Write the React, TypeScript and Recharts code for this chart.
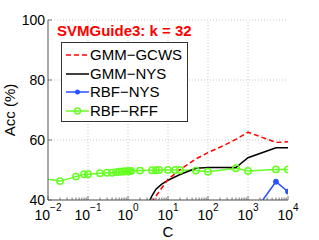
import React from 'react';
import { LineChart, Line, XAxis, YAxis, CartesianGrid, ReferenceLine, Legend } from 'recharts';

// ---- data ----
const gcwsC = [3, 5, 10, 20, 50, 100, 200, 500, 1000, 5000, 10000];
const gcwsAcc = [36.9, 41.3, 46.9, 50.1, 53.7, 55.8, 57.6, 60.2, 62.6, 59.2, 59.4];

const nysC = [3, 4, 5, 7, 10, 20, 50, 100, 200, 500, 1000, 5000, 10000];
const nysAcc = [38.0, 41.5, 43.6, 45.3, 46.6, 48.5, 50.6, 50.8, 50.8, 50.8, 54.1, 57.4, 57.4];

const rbfNysC = [1000, 5000, 10000];
const rbfNysAcc = [33.2, 46.1, 42.8];

const rffC = [0.005, 0.02, 0.05, 0.08, 0.1, 0.2, 0.3, 0.4, 0.5, 0.6, 0.7, 0.8, 0.9, 1, 1.1, 1.2, 2, 4, 5, 6, 10, 15, 20, 50, 100, 500, 1000, 5000, 10000];
const rffAcc = [47.5, 46.3, 47.8, 48.6, 48.6, 48.9, 49.1, 49.1, 49.3, 49.4, 49.5, 49.5, 49.6, 49.6, 49.6, 49.7, 49.8, 49.9, 49.9, 50.0, 50.0, 50.0, 50.0, 49.8, 49.4, 50.6, 49.7, 50.2, 50.2];

const majorTicks = [0.01, 0.1, 1, 10, 100, 1000, 10000];
const yTicks = [40, 60, 80, 100];
const titleText = 'SVMGuide3: k = 32';
const seriesNames = ['GMM\u2212GCWS', 'GMM\u2212NYS', 'RBF\u2212NYS', 'RBF\u2212RFF'];
const xLabel = 'C';
const yLabel = 'Acc (%)';

// ---- helpers ----
const zip = (cs: number[], as: number[]) => cs.map((c, i) => ({ c, acc: as[i] }));
const gcwsData = zip(gcwsC, gcwsAcc);
const nysData = zip(nysC, nysAcc);
const rbfNysData = zip(rbfNysC, rbfNysAcc);
const rffData = zip(rffC, rffAcc);

const allXTicks: number[] = [];
for (let i = 0; i < majorTicks.length - 1; i++) {
  for (let k = 1; k <= 9; k++) allXTicks.push(+(majorTicks[i] * k).toPrecision(6));
}
allXTicks.push(majorTicks[majorTicks.length - 1]);

const FONT = '"Liberation Sans", Arial, Helvetica, sans-serif';
const AXIS = '#555';
const RED = '#ff0000';
const BLACK = '#000000';
const BLUE = '#2a52ff';
const GREEN = '#66ff22';
const DASH = '5 3';

const isMajor = (v: number) => majorTicks.some((m) => Math.abs(m - v) / m < 1e-6);

const XTickBottom = (props: any) => {
  const { x, y, payload } = props;
  const v = payload.value;
  const major = isMajor(v);
  const exp = Math.round(Math.log10(v));
  return (
    <g>
      <line x1={x} x2={x} y1={y} y2={y - (major ? 4 : 2.5)} stroke={AXIS} strokeWidth={0.8} />
      {major && (
        <text x={x} y={y + 20} textAnchor="middle" fontFamily={FONT} fontSize={14} fill="#000">
          10
          <tspan dy={-9} fontSize={10}>{exp < 0 ? '\u2212' + Math.abs(exp) : String(exp)}</tspan>
        </text>
      )}
    </g>
  );
};

const XTickTop = (props: any) => {
  const { x, y, payload } = props;
  const major = isMajor(payload.value);
  return <line x1={x} x2={x} y1={y} y2={y + (major ? 4 : 2.5)} stroke={AXIS} strokeWidth={0.8} />;
};

const YTickLeft = (props: any) => {
  const { x, y, payload } = props;
  return (
    <g>
      <line x1={x} x2={x + 4} y1={y} y2={y} stroke={AXIS} strokeWidth={0.8} />
      <text x={x - 3} y={y + 5} textAnchor="end" fontFamily={FONT} fontSize={14} fill="#000">
        {payload.value}
      </text>
    </g>
  );
};

const YTickRight = (props: any) => {
  const { x, y } = props;
  return <line x1={x} x2={x - 4} y1={y} y2={y} stroke={AXIS} strokeWidth={0.8} />;
};

const GreenDot = (props: any) => {
  const { cx, cy } = props;
  if (cx == null || cy == null) return <g />;
  return <circle cx={cx} cy={cy} r={3.2} fill="none" stroke={GREEN} strokeWidth={1.5} />;
};
const BlueDot = (props: any) => {
  const { cx, cy } = props;
  if (cx == null || cy == null) return <g />;
  return <circle cx={cx} cy={cy} r={2.5} fill={BLUE} stroke={BLUE} strokeWidth={1} />;
};

const legendRows = [
  { name: seriesNames[0], color: RED, dash: DASH, marker: 'none' },
  { name: seriesNames[1], color: BLACK, dash: undefined, marker: 'none' },
  { name: seriesNames[2], color: BLUE, dash: undefined, marker: 'dot' },
  { name: seriesNames[3], color: GREEN, dash: undefined, marker: 'circle' },
];

const LegendContent = () => (
  <div style={{ position: 'relative', width: 319, height: 240, fontFamily: FONT }}>
    <div
      style={{
        position: 'absolute',
        left: 57,
        top: 22,
        color: RED,
        fontWeight: 'bold',
        fontSize: 15,
        lineHeight: '17px',
        whiteSpace: 'nowrap',
      }}
    >
      {titleText}
    </div>
    <div
      style={{
        position: 'absolute',
        left: 61,
        top: 42,
        width: 125,
        height: 78,
        border: '1px solid #333',
        background: '#fff',
      }}
    >
      {legendRows.map((r, i) => (
        <div
          key={r.name}
          style={{ position: 'absolute', left: 0, top: 3 + i * 18.7, height: 18, width: 125 }}
        >
          <svg width={30} height={18} style={{ position: 'absolute', left: 2, top: 0 }}>
            <line x1={2} x2={25} y1={9} y2={9} stroke={r.color} strokeWidth={1.5} strokeDasharray={r.dash} />
            {r.marker === 'dot' && <circle cx={13.5} cy={9} r={2.5} fill={r.color} />}
            {r.marker === 'circle' && <circle cx={13.5} cy={9} r={3} fill="none" stroke={r.color} strokeWidth={1.5} />}
          </svg>
          <span
            style={{
              position: 'absolute',
              left: 28,
              top: 0,
              fontSize: 15,
              lineHeight: '18px',
              color: '#000',
              whiteSpace: 'nowrap',
            }}
          >
            {r.name}
          </span>
        </div>
      ))}
    </div>
  </div>
);

export default function App() {
  return (
    <div style={{ position: 'absolute', left: 0, top: 0, width: 319, height: 240, background: '#fff' }}>
      <LineChart width={319} height={240} margin={{ top: 20, right: 31, bottom: 0, left: 0 }}>
        <CartesianGrid vertical={false} stroke="#c8c8c8" strokeDasharray="1 2" yAxisId="left" />
        <XAxis
          xAxisId="bottom"
          dataKey="c"
          type="number"
          scale="log"
          domain={[0.01, 10000]}
          allowDataOverflow
          ticks={allXTicks}
          interval={0}
          tickSize={0}
          tickMargin={0}
          height={40}
          tick={<XTickBottom />}
          tickLine={false}
          axisLine={{ stroke: AXIS, strokeWidth: 1 }}
          label={(p: any) => {
            const vb = p.viewBox || { x: 48, y: 200, width: 240, height: 40 };
            return (
              <text x={vb.x + vb.width / 2} y={vb.y + 37} textAnchor="middle" fontFamily={FONT} fontSize={15} fill="#000">
                {xLabel}
              </text>
            );
          }}
        />
        <XAxis
          xAxisId="top"
          orientation="top"
          dataKey="c"
          type="number"
          scale="log"
          domain={[0.01, 10000]}
          allowDataOverflow
          ticks={allXTicks}
          interval={0}
          tickSize={0}
          tickMargin={0}
          height={0}
          tick={<XTickTop />}
          tickLine={false}
          axisLine={{ stroke: AXIS, strokeWidth: 1 }}
        />
        <YAxis
          yAxisId="left"
          type="number"
          domain={[40, 100]}
          allowDataOverflow
          ticks={yTicks}
          interval={0}
          tickSize={0}
          tickMargin={0}
          width={48}
          tick={<YTickLeft />}
          tickLine={false}
          axisLine={{ stroke: AXIS, strokeWidth: 1 }}
          label={(p: any) => {
            const vb = p.viewBox || { x: 0, y: 20, width: 48, height: 180 };
            const cx = vb.x + 15;
            const cy = vb.y + vb.height / 2;
            return (
              <text x={cx} y={cy} transform={`rotate(-90, ${cx}, ${cy})`} textAnchor="middle" fontFamily={FONT} fontSize={15} fill="#000">
                {yLabel}
              </text>
            );
          }}
        />
        <YAxis
          yAxisId="right"
          orientation="right"
          type="number"
          domain={[40, 100]}
          allowDataOverflow
          ticks={yTicks}
          interval={0}
          tickSize={0}
          tickMargin={0}
          width={0}
          tick={<YTickRight />}
          tickLine={false}
          axisLine={{ stroke: AXIS, strokeWidth: 1 }}
        />
        {[0.1, 1, 10, 100, 1000].map((v) => (
          <ReferenceLine key={v} x={v} xAxisId="bottom" yAxisId="left" stroke="#c8c8c8" strokeDasharray="1 2" />
        ))}
        <Line
          xAxisId="bottom"
          yAxisId="left"
          data={rffData}
          dataKey="acc"
          name={seriesNames[3]}
          stroke={GREEN}
          strokeWidth={1.5}
          dot={<GreenDot />}
          isAnimationActive={false}
        />
        <Line
          xAxisId="bottom"
          yAxisId="left"
          data={rbfNysData}
          dataKey="acc"
          name={seriesNames[2]}
          stroke={BLUE}
          strokeWidth={1.5}
          dot={<BlueDot />}
          isAnimationActive={false}
        />
        <Line
          xAxisId="bottom"
          yAxisId="left"
          data={nysData}
          dataKey="acc"
          name={seriesNames[1]}
          stroke={BLACK}
          strokeWidth={1.5}
          dot={false}
          isAnimationActive={false}
        />
        <Line
          xAxisId="bottom"
          yAxisId="left"
          data={gcwsData}
          dataKey="acc"
          name={seriesNames[0]}
          stroke={RED}
          strokeWidth={1.5}
          strokeDasharray={DASH}
          dot={false}
          isAnimationActive={false}
        />
        <Legend
          layout="vertical"
          align="center"
          verticalAlign="middle"
          wrapperStyle={{ left: 0, top: 0, width: 319, height: 240, pointerEvents: 'none' }}
          content={<LegendContent />}
        />
      </LineChart>
    </div>
  );
}
